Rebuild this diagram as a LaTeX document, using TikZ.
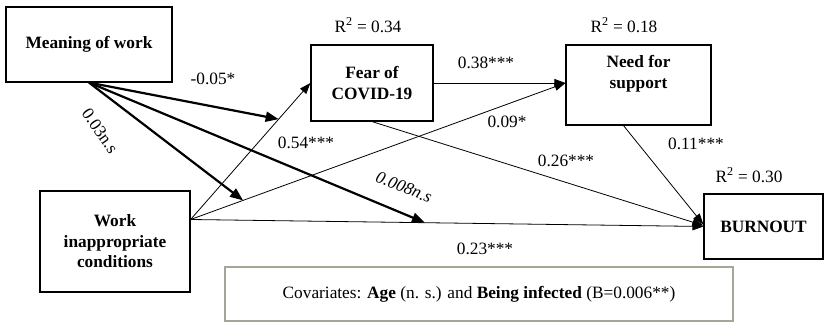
\documentclass[tikz,border=0pt]{standalone}
\usepackage{fontspec}
\setmainfont{Liberation Serif}
\usetikzlibrary{arrows.meta,calc}
\definecolor{covborder}{HTML}{A6A696}
\begin{document}
\begin{tikzpicture}[x=1pt,y=-1pt,
  box/.style={draw=black,line width=1.2pt,rectangle,inner sep=0pt,align=center,font=\fontsize{17.3}{20.5}\selectfont\bfseries},
  lbl/.style={font=\fontsize{17.3}{20.5}\selectfont,inner sep=0pt},
  thinarr/.style={line width=0.8pt,-{Triangle[length=11pt,width=8pt]}},
  thickarr/.style={line width=2.2pt,-{Triangle[length=13pt,width=10pt]}}]
\useasboundingbox (0,0) rectangle (829,328);
% boxes
\node[box,minimum width=166pt,minimum height=75pt] (mw) at (89,44.5) {Meaning of work};
\node[box,minimum width=150pt,minimum height=101pt] (wic) at (115,241.5) {Work\\inappropriate\\conditions};
\node[box,minimum width=122pt,minimum height=76pt] (fc) at (372,83) {Fear of\\COVID-19};
\node[box,minimum width=145pt,minimum height=80pt] (ns) at (638.5,85) {};
\node[font=\fontsize{17.3}{20.5}\selectfont\bfseries,align=center,inner sep=0pt] (nst) at (638.5,74) {Need for\\support};
\node[box,minimum width=119pt,minimum height=65pt] (bo) at (763.5,226.5) {BURNOUT};
\node[draw=covborder,line width=1.2pt,minimum width=508pt,minimum height=54pt,inner sep=0pt,font=\fontsize{17.3}{20.5}\selectfont] (cov) at (479,294) {Covariates: \textbf{Age} (n. s.) and \textbf{Being infected} (B=0.006**)};
% origin coordinate
\coordinate (wo) at ([yshift=22pt]wic.east);
\coordinate (nin) at ($(ns.west)+(0,-2)$);
% thin paths
\draw[thinarr] (wo) -- coordinate[pos=0.735] (m1) (fc.west);
\draw[thinarr] (wo) -- coordinate[pos=0.14] (m2) (nin);
\draw[thinarr] (wo) -- coordinate[pos=0.457] (m3) (bo.west);
\draw[thinarr] (fc.east) -- (fc.east -| ns.west);
\draw[thinarr] (fc.south) -- ([yshift=1pt]bo.west);
\draw[thinarr] ([xshift=-15pt]ns.south) -- ([yshift=2pt]bo.west);
% moderation arrows
\draw[thickarr] (mw.south) -- (m1);
\draw[thickarr] (mw.south) -- (m2);
\draw[thickarr] (mw.south) -- (m3);
% labels
\node[lbl] (r1) at (368,25) {R\textsuperscript{2} = 0.34};
\node[lbl] (r2) at (624,25) {R\textsuperscript{2} = 0.18};
\node[lbl] (r3) at (749,175) {R\textsuperscript{2} = 0.30};
\node[lbl] (l1) at (213,79) {-0.05*};
\node[lbl,rotate=-55] (l2) at (100,131) {0.03n.s};
\node[lbl] (l3) at (306,143) {0.54***};
\node[lbl] (l4) at (486,63) {0.38***};
\node[lbl] (l5) at (507,122) {0.09*};
\node[lbl] (l6) at (566,161) {0.26***};
\node[lbl] (l7) at (696,144) {0.11***};
\node[lbl,rotate=-22] (l8) at (404,187) {\textit{0.008n.s}};
\node[lbl] (l9) at (485,249) {0.23***};
\end{tikzpicture}
\end{document}
